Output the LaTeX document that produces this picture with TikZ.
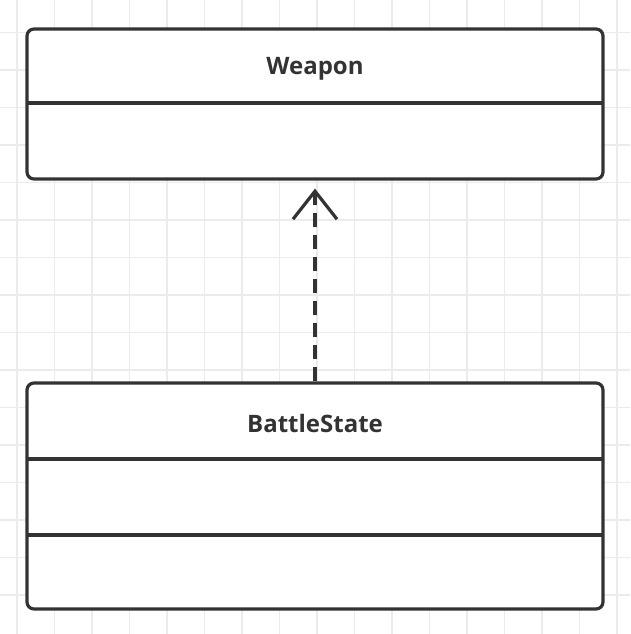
\documentclass[tikz,border=0pt]{standalone}
\usepackage{fontspec}
\setsansfont{Open Sans}
\usetikzlibrary{arrows.meta}

\tikzset{
  classbox/.style={draw=black!80, line width=3.2pt, rounded corners=7pt, fill=white,
    minimum width=576pt, inner sep=0pt},
  classname/.style={font=\sffamily\bfseries\fontsize{24}{28}\selectfont, text=black!80},
  divider/.style={draw=black!80, line width=3.2pt},
  depends/.style={draw=black!80, line width=3.2pt, dash pattern=on 14pt off 8pt,
    -{Straight Barb[length=28pt,width=44pt,line width=3.2pt]}}
}

\begin{document}
\begin{tikzpicture}[x=1pt,y=-1pt]
\useasboundingbox (0,0) rectangle (630,634);
\fill[white] (0,0) rectangle (630,634);
% grid
\foreach \i in {0,...,16} {
  \draw[black!8, line width=1.5pt] (17+37.5*\i,0) -- (17+37.5*\i,634);
  \draw[black!8, line width=1.5pt] (0,-5+37.5*\i) -- (630,-5+37.5*\i);
}

% Weapon
\node[classbox, minimum height=150pt] (weapon) at (315,104) {};
\node[classname] (weaponname) at (315,69) {Weapon};
\draw[divider] (27,103) -- (603,103);

% BattleState
\node[classbox, minimum height=226pt] (battle) at (315,496) {};
\node[classname] (battlename) at (315,423) {BattleState};
\draw[divider] (27,459) -- (603,459);
\draw[divider] (27,535) -- (603,535);

% dependency
\draw[depends] (battle.north) -- ([yshift=-8pt]weapon.south);
\end{tikzpicture}
\end{document}
